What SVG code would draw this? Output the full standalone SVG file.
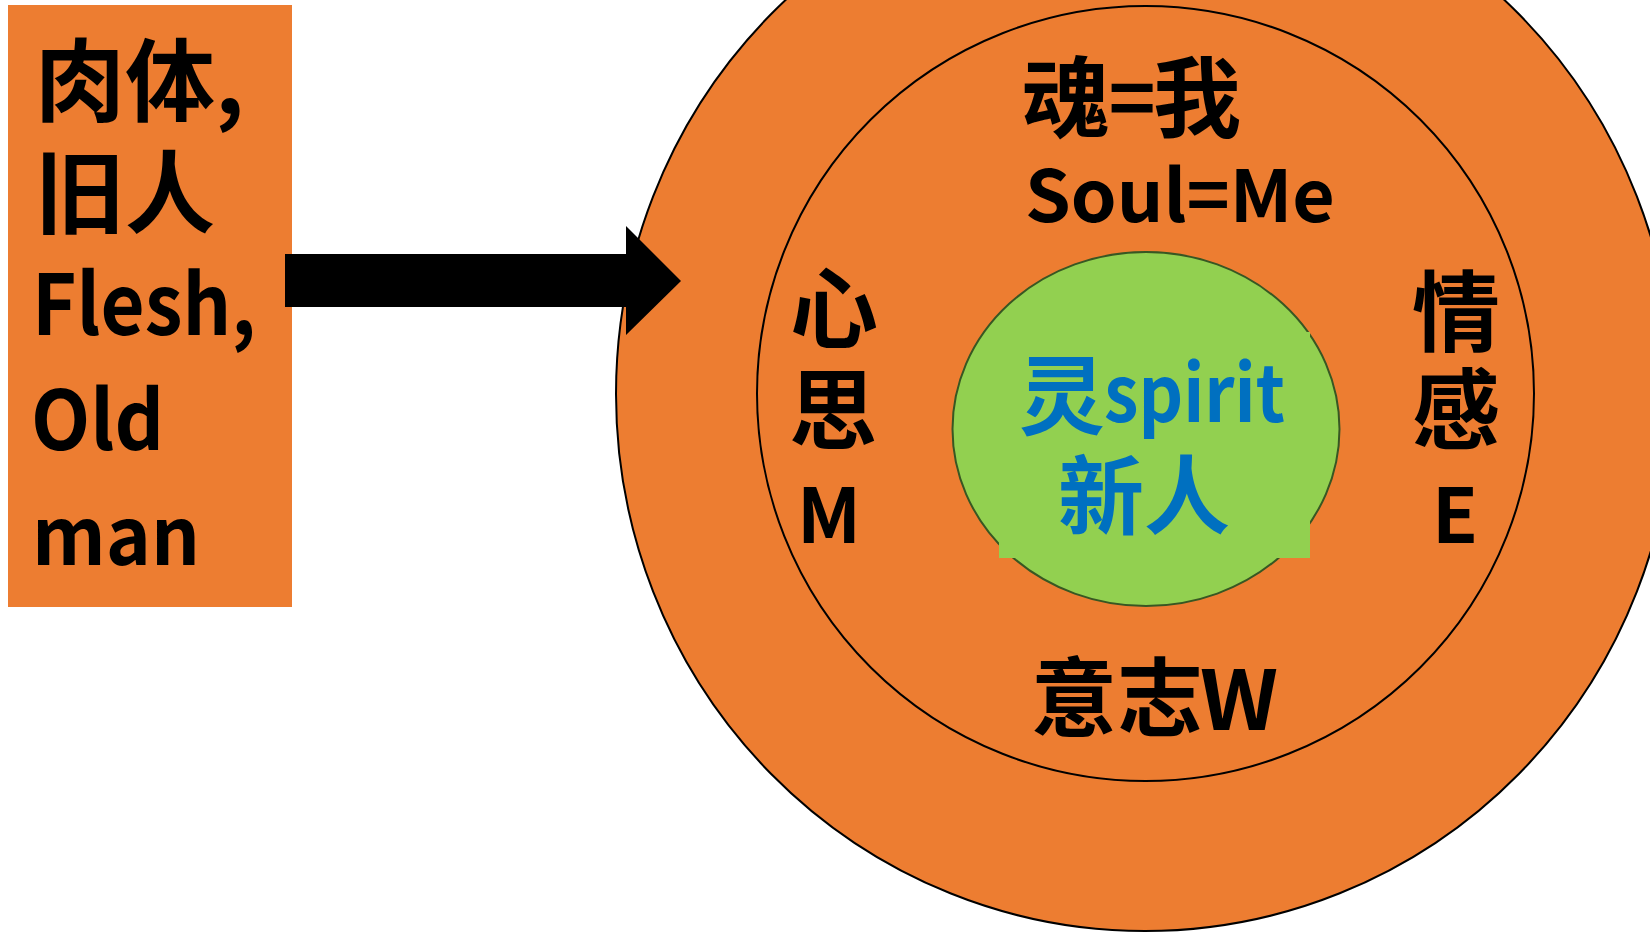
<svg xmlns="http://www.w3.org/2000/svg" width="1650" height="933" viewBox="0 0 1650 933">
  <style>
    .t { font-family: "Noto Sans CJK SC", "Noto Sans", sans-serif; font-weight: bold; fill: #000; }
    .b { fill: #0070C0; }
    .orange { fill: #ED7D31; }
    .m { text-anchor: middle; }
  </style>
  <rect width="1650" height="933" fill="#FFFFFF"/>
  <g id="outer-circle">
    <ellipse cx="1145" cy="394" rx="529" ry="537" class="orange" stroke="#000" stroke-width="2"/>
  </g>
  <g id="inner-circle">
    <ellipse cx="1145.5" cy="393.5" rx="388.5" ry="387.5" class="orange" stroke="#000" stroke-width="2"/>
    <text class="t" x="1022" y="130" font-size="88">魂</text>
    <text class="t m" x="1132" y="128" font-size="80">=</text>
    <text class="t" x="1153" y="130" font-size="88">我</text>
    <text class="t" x="1025" y="222" font-size="72" textLength="310" lengthAdjust="spacingAndGlyphs">Soul=Me</text>
    <text class="t m" x="834" y="341" font-size="88">心</text>
    <text class="t m" x="833" y="442" font-size="88">思</text>
    <text class="t m" x="829" y="543" font-size="75">M</text>
    <text class="t m" x="1456" y="344" font-size="88">情</text>
    <text class="t m" x="1456" y="442" font-size="88">感</text>
    <text class="t m" x="1455" y="543" font-size="75">E</text>
    <text class="t" x="1031" y="730" font-size="86">意志</text>
    <text class="t" x="1200" y="730" font-size="82" textLength="78" lengthAdjust="spacingAndGlyphs">W</text>
  </g>
  <g id="spirit">
    <ellipse cx="1146" cy="429" rx="193.5" ry="177" fill="#92D050" stroke="#385723" stroke-width="2"/>
    <rect x="999" y="332" width="311" height="226" fill="#92D050"/>
    <text class="t b" x="1019" y="428" font-size="86">灵</text>
    <text class="t b" x="1104" y="422" font-size="78" textLength="181" lengthAdjust="spacingAndGlyphs">spirit</text>
    <text class="t b" x="1058" y="528" font-size="86">新人</text>
  </g>
  <g id="flesh">
    <rect x="8" y="5" width="284" height="602" class="orange"/>
    <text class="t" x="35" y="114" font-size="90">肉体,</text>
    <text class="t" x="35" y="226" font-size="90">旧人</text>
    <text class="t" x="32" y="335" font-size="84" textLength="224" lengthAdjust="spacingAndGlyphs">Flesh,</text>
    <text class="t" x="31" y="450" font-size="82" textLength="133" lengthAdjust="spacingAndGlyphs">Old</text>
    <text class="t" x="32" y="565" font-size="80" textLength="168" lengthAdjust="spacingAndGlyphs">man</text>
  </g>
  <g id="connectors">
    <polygon points="285,254 626,254 626,226 681,281 626,335 626,307 285,307" fill="#000"/>
  </g>
</svg>
